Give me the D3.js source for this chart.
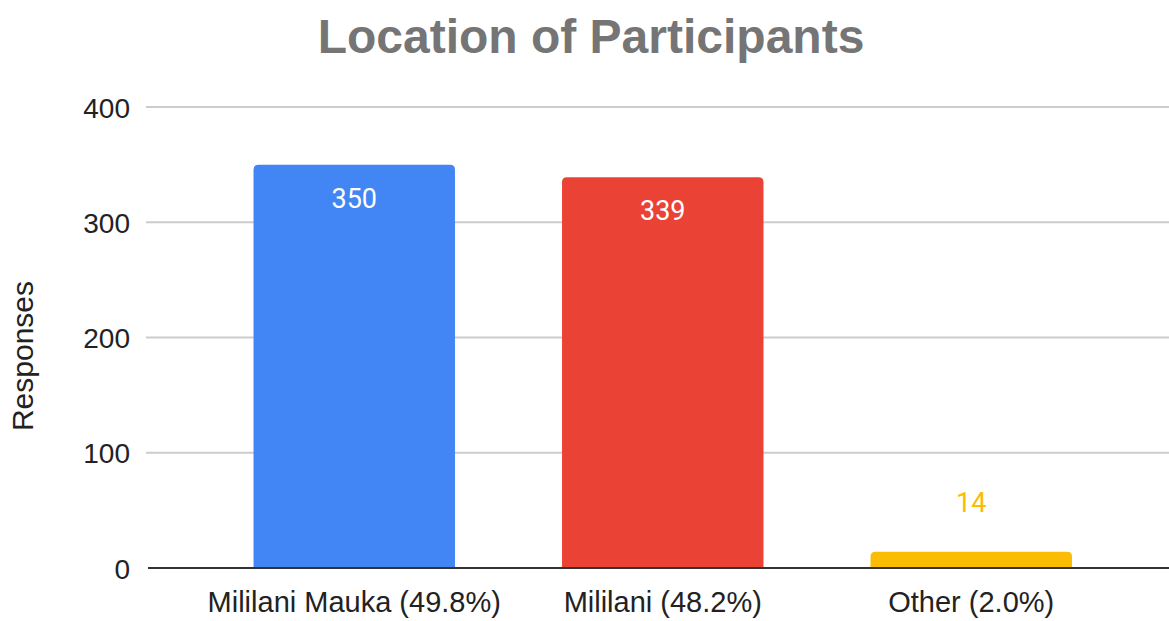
<!DOCTYPE html>
<html>
<head>
<meta charset="utf-8">
<script src="https://cdn.jsdelivr.net/npm/d3@7"></script>
<style>
  body { margin: 0; background: #fff; }
  text { font-family: "Liberation Sans", Arial, sans-serif; }
</style>
</head>
<body>
<div id="chart"></div>
<script>
// data
var categories = ["Mililani Mauka (49.8%)", "Mililani (48.2%)", "Other (2.0%)"];
var values = [350, 339, 14];
var colors = ["#4285F4", "#EA4335", "#FBBC04"];
var yTicks = [0, 100, 200, 300, 400];

var totwidth = 1169,
	totheight = 621;

var svg = d3.select("#chart").append("svg")
	.attr("width", totwidth)
	.attr("height", totheight);

// scales
var x = d3.scaleBand()
	.domain(categories)
	.range([200, 1125.5])
	.padding(0);

var y = d3.scaleLinear()
	.domain([0, 400])
	.range([568, 107]);

var barw = x.bandwidth() * 0.653;

// title
svg.append("text")
	.attr("x", 591)
	.attr("y", 53)
	.attr("text-anchor", "middle")
	.style("font-size", "48px")
	.style("font-weight", "bold")
	.attr("fill", "#757575")
	.text("Location of Participants");

// gridlines
svg.append("g")
	.selectAll("line").data(yTicks.filter(function(d) { return d > 0; })).enter().append("line")
		.attr("x1", 146)
		.attr("x2", totwidth)
		.attr("y1", function(d) { return y(d); })
		.attr("y2", function(d) { return y(d); })
		.attr("stroke", "#cccccc")
		.attr("stroke-width", 2);

// y axis labels
var yAxis = d3.axisLeft(y).tickValues(yTicks).tickSize(0).tickPadding(0);
var gy = svg.append("g")
	.attr("transform", "translate(130,0)")
	.call(yAxis);
gy.select(".domain").remove();
gy.selectAll("text")
	.attr("dy", "0.36em")
	.style("font-family", "'Liberation Sans', Arial, sans-serif")
	.style("font-size", "28px")
	.attr("fill", "#222");

// y axis title
svg.append("text")
	.attr("transform", "translate(33,356) rotate(-90)")
	.attr("text-anchor", "middle")
	.style("font-size", "30px")
	.attr("fill", "#222")
	.text("Responses");

// bars with rounded top corners
function barPath(x0, y0, w, h, r) {
	r = Math.min(r, h, w / 2);
	return "M" + x0 + "," + (y0 + h) +
		"V" + (y0 + r) +
		"Q" + x0 + "," + y0 + " " + (x0 + r) + "," + y0 +
		"H" + (x0 + w - r) +
		"Q" + (x0 + w) + "," + y0 + " " + (x0 + w) + "," + (y0 + r) +
		"V" + (y0 + h) + "Z";
}

svg.append("g")
	.selectAll("path").data(values).enter().append("path")
		.attr("d", function(d, i) {
			var cx = x(categories[i]) + x.bandwidth() / 2;
			return barPath(cx - barw / 2, y(d), barw, y(0) - y(d), 5);
		})
		.attr("fill", function(d, i) { return colors[i]; });

// x axis line
svg.append("line")
	.attr("x1", 148)
	.attr("x2", totwidth)
	.attr("y1", y(0))
	.attr("y2", y(0))
	.attr("stroke", "#333")
	.attr("stroke-width", 2);

// x labels
svg.append("g")
	.selectAll("text").data(categories).enter().append("text")
		.attr("x", function(d) { return x(d) + x.bandwidth() / 2; })
		.attr("y", 612)
		.attr("text-anchor", "middle")
		.style("font-size", "29px")
		.attr("fill", "#222")
		.text(function(d) { return d; });

// value labels: inside bar if tall enough, otherwise above
svg.append("g")
	.selectAll("text").data(values).enter().append("text")
		.attr("x", function(d, i) { return x(categories[i]) + x.bandwidth() / 2; })
		.attr("y", function(d) {
			return (y(0) - y(d) > 60) ? y(d) + 43 : y(d) - 40;
		})
		.attr("text-anchor", "middle")
		.style("font-family", "Roboto, sans-serif")
		.style("font-size", "27px")
		.attr("fill", function(d, i) { return (y(0) - y(d) > 60) ? "#ffffff" : colors[i]; })
		.text(function(d) { return d; });
</script>
</body>
</html>
